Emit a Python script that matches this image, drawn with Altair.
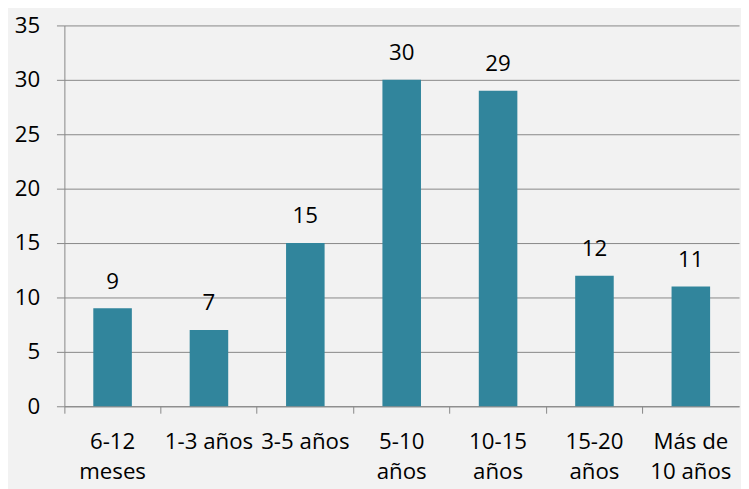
import altair as alt
import pandas as pd

categories = ["6-12|meses", "1-3 años", "3-5 años", "5-10|años", "10-15|años", "15-20|años", "Más de|10 años"]
values = [9, 7, 15, 30, 29, 12, 11]
y_ticks = [0, 5, 10, 15, 20, 25, 30, 35]

df = pd.DataFrame({"cat": categories, "val": values})

FONT = "Open Sans"
GRAY = "#888888"

x = alt.X("cat:N", sort=categories, title=None,
          scale=alt.Scale(paddingInner=0, paddingOuter=0),
          axis=alt.Axis(labelAngle=0, labelExpr="split(datum.label, '|')",
                        labelFont=FONT, labelFontSize=22.5, labelColor="#000000",
                        labelLineHeight=30, labelPadding=18, labelBaseline="top",
                        bandPosition=0, tickSize=7, tickColor=GRAY,
                        domainColor=GRAY, grid=False))
y = alt.Y("val:Q", title=None,
          scale=alt.Scale(domain=[0, 35], nice=False),
          axis=alt.Axis(values=y_ticks, labelFont=FONT, labelFontSize=22.5,
                        labelColor="#000000", labelPadding=17, tickSize=8,
                        tickColor=GRAY, domainColor=GRAY, grid=True,
                        gridColor=GRAY, gridWidth=1, gridOpacity=1))

base = alt.Chart(df)
bars = base.mark_bar(color="#31859C", width=alt.RelativeBandSize(0.4)).encode(x=x, y=y)
text = base.mark_text(dy=-20, baseline="alphabetic", font=FONT, fontSize=22.5,
                      color="#000000").encode(x=alt.X("cat:N", sort=categories),
                                              y="val:Q", text="val:Q")

chart = (bars + text).properties(
    width=682, height=385,
    autosize=alt.AutoSizeParams(type="none"),
    padding={"left": 57, "top": 15, "right": 2, "bottom": 81},
    background="#F2F2F2",
).configure_view(stroke=None)

chart.save("out.html", embed_options={"renderer": "svg", "actions": False})
